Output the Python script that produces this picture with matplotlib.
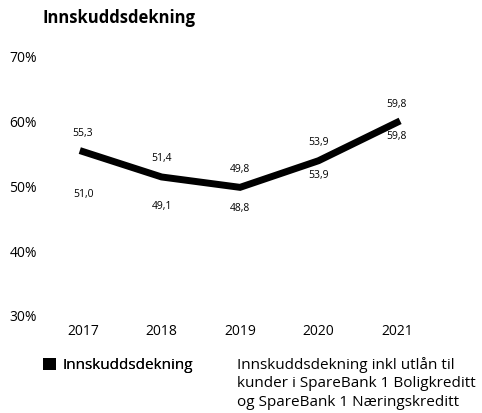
import matplotlib
matplotlib.use("Agg")
import matplotlib.pyplot as plt
from matplotlib.patches import Patch

# data
years = ["2017", "2018", "2019", "2020", "2021"]
dekning = [55.3, 51.4, 49.8, 53.9, 59.8]
dekning_inkl = [51.0, 49.1, 48.8, 53.9, 59.8]
yticks = [30, 40, 50, 60, 70]
labels = ["Innskuddsdekning",
          "Innskuddsdekning inkl utlån til\nkunder i SpareBank 1 Boligkreditt\nog SpareBank 1 Næringskreditt"]

plt.rcParams["font.family"] = ["Open Sans", "DejaVu Sans"]

fig = plt.figure(figsize=(4.82, 4.13), dpi=100)
ax = fig.add_axes([0.091, 0.235, 0.814, 0.629])

x = list(range(len(years)))
ax.plot(x, dekning_inkl, color="white", lw=5, zorder=1)
ax.plot(x, dekning, color="black", lw=5, solid_joinstyle="miter", zorder=2)

fmt = lambda v: f"{v:.1f}".replace(".", ",")
for xi, v in zip(x, dekning):
    ax.annotate(fmt(v), (xi, v), xytext=(0, 13), textcoords="offset points",
                ha="center", va="center", fontsize=7.5)
for xi, v in zip(x, dekning_inkl):
    ax.annotate(fmt(v), (xi, v), xytext=(0, -10.5), textcoords="offset points",
                ha="center", va="center", fontsize=7.5)

ax.set_xlim(-0.5, len(years) - 0.5)
ax.set_ylim(30, 70)
ax.set_yticks(yticks)
ax.set_yticklabels([f"{t}%" for t in yticks])
ax.set_xticks(x)
ax.set_xticklabels(years)
ax.tick_params(axis="y", length=0, pad=5, labelsize=10)
ax.tick_params(axis="x", length=0, pad=6, labelsize=10)
for s in ax.spines.values():
    s.set_visible(False)

fig.text(43 / 482, 1 - 18 / 413, "Innskuddsdekning", fontsize=12,
         fontweight="bold", va="center", ha="left")

# two separate legend boxes so both entries line up at the top
leg1 = fig.legend([Patch(facecolor="black")], labels[:1], loc="upper left",
                  bbox_to_anchor=(43 / 482, 1 - 358 / 413), frameon=False,
                  fontsize=11, handlelength=0.85, handleheight=0.85,
                  handletextpad=0.45, borderpad=0, borderaxespad=0)
leg2 = fig.legend([Patch(facecolor="white")], labels[1:], loc="upper left",
                  bbox_to_anchor=(237 / 482, 1 - 357 / 413), frameon=False,
                  fontsize=11, handlelength=0, handletextpad=0,
                  borderpad=0, borderaxespad=0)
for t in leg2.get_texts():
    t.set_linespacing(1.3)
fig.add_artist(leg1)

fig.savefig("out.png", dpi=100)
